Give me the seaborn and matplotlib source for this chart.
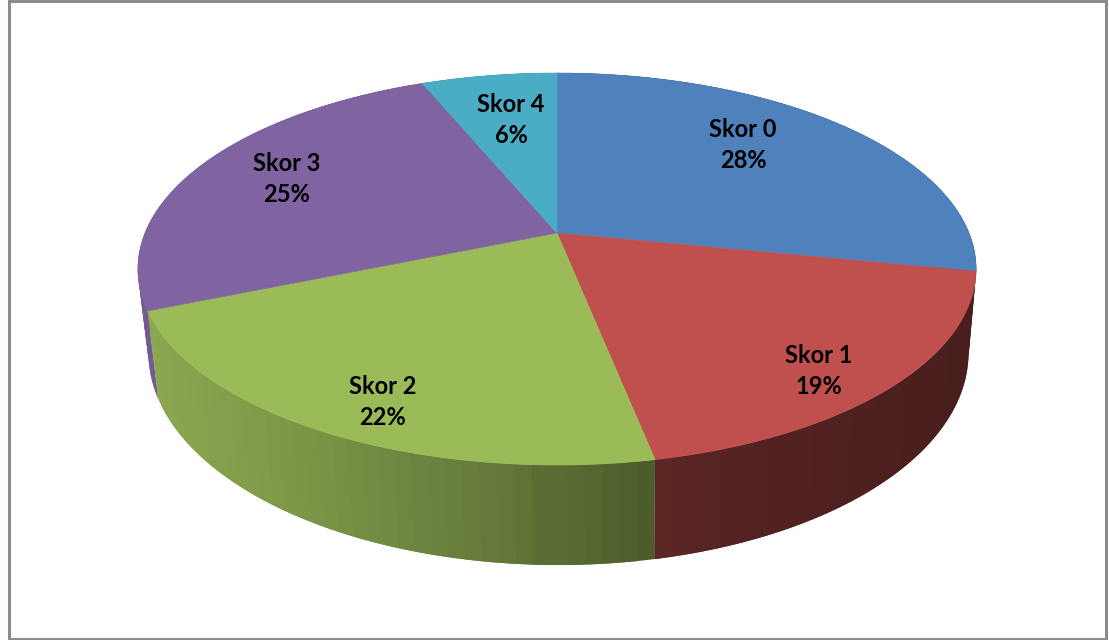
import numpy as np
import matplotlib
matplotlib.use("Agg")
import matplotlib.pyplot as plt
import seaborn as sns

# --- data ---
categories = ["Skor 0", "Skor 1", "Skor 2", "Skor 3", "Skor 4"]
counts = [9, 6, 7, 8, 2]
slice_colors = ["#4f81bd", "#c0504d", "#9bbb59", "#8064a2", "#4bacc6"]

sns.set_theme(style="white")
plt.rcParams["font.family"] = ["Lato", "DejaVu Sans"]
palette = sns.color_palette(slice_colors)

# --- perspective projection of the pie disc to pixels ---
CX, TILT = 557.0, 0.1837


def top_face(t):
    u, v = np.sin(t), np.cos(t)
    d = 1 + TILT * v
    return CX + 412.0 * u / d, (233.0 - 146.6 * v) / d


def bottom_face(t):
    u, v = np.sin(t), np.cos(t)
    d = 1 + TILT * v
    return CX + 1.5 + 403.0 * u / d, (314.0 - 147.2 * v) / d


def shade(x):
    return np.interp(x, [145, 300, 500, 650, 700, 960], [0.90, 0.80, 0.64, 0.49, 0.45, 0.38])


fig = plt.figure(figsize=(11.09, 6.40), dpi=100)
ax = fig.add_axes([0, 0, 1, 1])
ax.set_xlim(0, 1109)
ax.set_ylim(640, 0)
ax.axis("off")

shares = np.array(counts, dtype=float) / sum(counts)
edges = np.concatenate([[0.0], np.cumsum(shares)]) * 2 * np.pi

# side wall strips, back to front; each strip overlaps the next one towards the viewer
strips = []
for i, color in enumerate(palette):
    n = max(int(np.degrees(edges[i + 1] - edges[i]) / 2), 2)
    ts = np.linspace(edges[i], edges[i + 1], n + 1)
    step = ts[1] - ts[0]
    for a, b in zip(ts[:-1], ts[1:]):
        xm = top_face(np.array([(a + b) / 2]))[0][0]
        if np.cos(a) > np.cos(b):
            a2, b2 = a, min(b + step, edges[i + 1])
        else:
            a2, b2 = max(a - step, edges[i]), b
        strips.append((np.cos((a + b) / 2), a2, b2, color, xm))
strips.sort(key=lambda s: -s[0])
for _, a, b, color, xm in strips:
    ts = np.linspace(a, b, 6)
    xt, yt = top_face(ts)
    xb, yb = bottom_face(ts)
    c = np.array(color) * shade(xm)
    ax.fill(np.r_[xt, xb[::-1]], np.r_[yt, yb[::-1]], color=tuple(c), lw=0, zorder=2)

# top face wedges
for i, color in enumerate(palette):
    ts = np.linspace(edges[i], edges[i + 1], 200)
    x, y = top_face(ts)
    ax.fill(np.r_[CX, x], np.r_[233.0, y], color=color, lw=0.4, zorder=3)

# labels
label_xy = [(743, 145), (819, 371), (383, 402), (287, 179), (511, 120)]
for name, share, (lx, ly) in zip(categories, shares, label_xy):
    ax.text(lx, ly, f"{name}\n{share * 100:.0f}%", ha="center", va="center",
            fontsize=17, fontweight="bold", color="black", linespacing=1.46, zorder=4)

# outer frame
ax.add_patch(plt.Rectangle((8.5, 1), 1097, 638, fill=False, ec="#8c8c8c", lw=2.2, zorder=5, clip_on=False))

fig.savefig("out.png", dpi=100)
